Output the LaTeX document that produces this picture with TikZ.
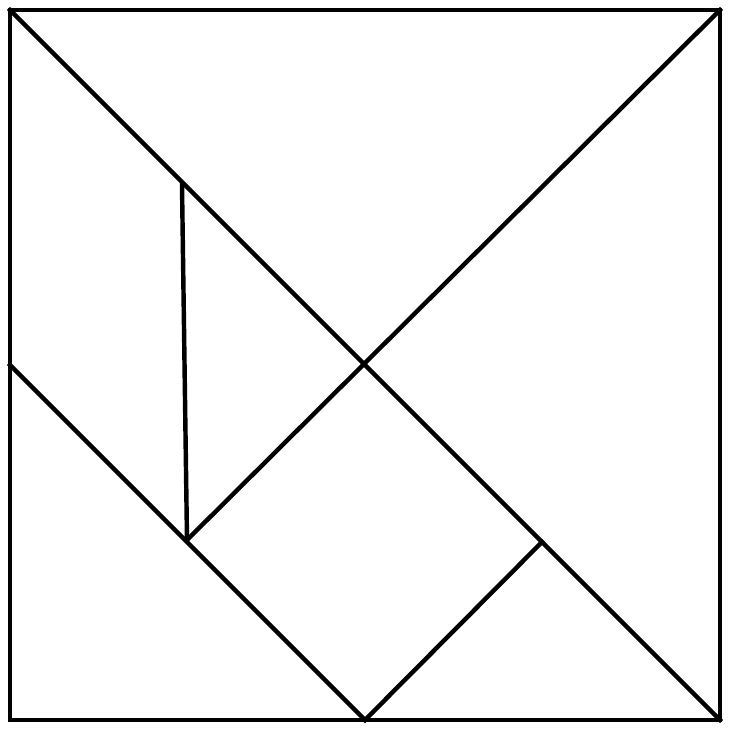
\documentclass[tikz,border=0pt]{standalone}
\usepackage{tikz}

\begin{document}
\begin{tikzpicture}[x=0.9014pt,y=0.9014pt,
    piece/.style={line width=4pt,line join=miter,line cap=rect}]
     \useasboundingbox (-10,-12) rectangle (720,720);

     % tangram points
     \coordinate (tl)  at (0,710);
     \coordinate (tr)  at (710,710);
     \coordinate (br)  at (710,0);
     \coordinate (bl)  at (0,0);
     \coordinate (ctr) at (355,355);
     \coordinate (lft) at (0,355);
     \coordinate (bot) at (355,0);
     \coordinate (up)  at (172,535);
     \coordinate (dn)  at (177,180);
     \coordinate (rgt) at (532,178);

     \draw[piece] (tl) rectangle (br);
     \path[piece] (tl)  edge (br)
                  (tr)  edge (dn)
                  (lft) edge (bot)
                  (up)  edge (dn)
                  (rgt) edge (bot);
\end{tikzpicture}
\end{document}
